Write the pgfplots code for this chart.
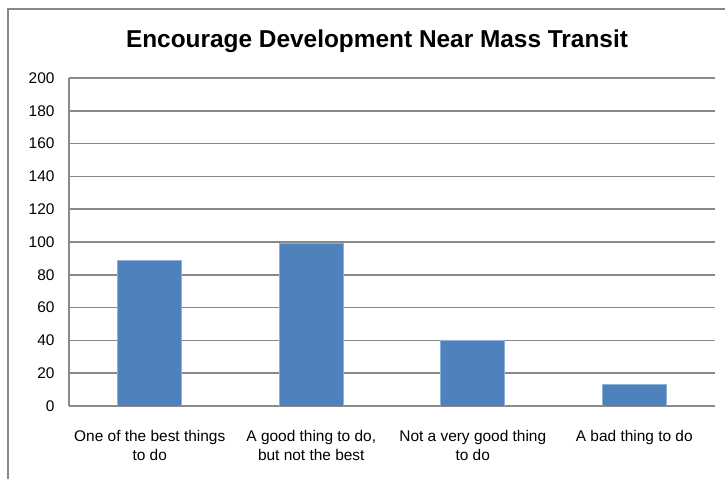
\documentclass[border=0pt]{standalone}
\usepackage{fontspec}
\setmainfont{Liberation Sans}
\usepackage{pgfplots}
\pgfplotsset{compat=1.18}
\definecolor{barblue}{HTML}{4F81BD}
\definecolor{baredge}{HTML}{8DB0DA}
\definecolor{gridgray}{HTML}{898989}
\begin{document}
\begin{tikzpicture}[x=1bp,y=1bp]
\useasboundingbox (0,0) rectangle (725,479);
\draw[gridgray, line width=1.5bp] (8,0) -- (8,470) -- (725,470);
\node[anchor=base, font=\bfseries\fontsize{24.5}{28}\selectfont] at (377,431) {Encourage Development Near Mass Transit};
\begin{axis}[
  at={(69bp,73bp)}, anchor=south west,
  scale only axis, width=646bp, height=328bp,
  ymin=0, ymax=200, ytick={0,20,...,200},
  xmin=-0.5, xmax=3.5, xtick={0,1,2,3},
  xticklabels={{One of the best things\\to do},{A good thing to do,\\but not the best},{Not a very good thing\\to do},{A bad thing to do}},
  xticklabel style={align=center, font=\fontsize{15.5}{19}\selectfont, yshift=-21bp},
  yticklabel style={font=\fontsize{15.5}{19}\selectfont, xshift=-11bp},
  /pgf/number format/assume math mode=true,
  ymajorgrids, grid style={gridgray, line width=1.7bp},
  axis x line*=bottom, axis y line*=left,
  axis line style={gridgray, line width=1.7bp, -},
  major tick length=0pt, tick style={draw=none},
  ybar, bar width=64bp,
]
\addplot[fill=barblue, draw=baredge, line width=0.6bp] coordinates {(0,89) (1,99) (2,40) (3,13)};
\end{axis}
\end{tikzpicture}
\end{document}
